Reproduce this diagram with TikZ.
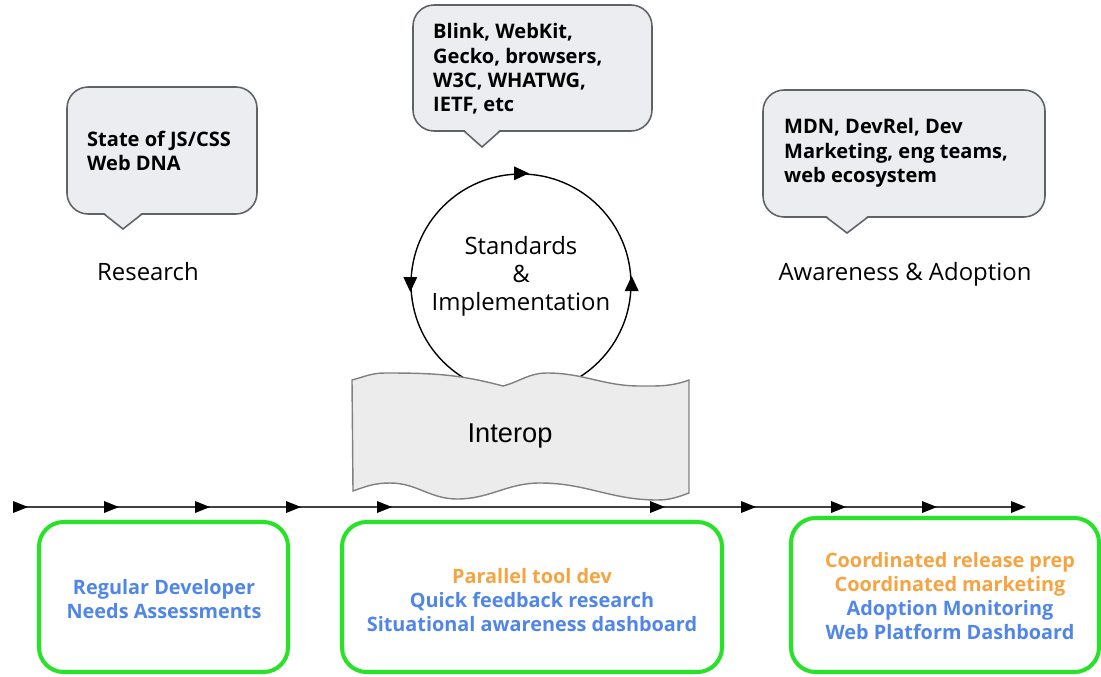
\documentclass[tikz,border=0pt]{standalone}
\usepackage{fontspec}
\setmainfont{Open Sans}
\newfontfamily\arialfont{Liberation Sans}
\usepackage{tikz}

\definecolor{calloutfill}{RGB}{235,237,240}
\definecolor{calloutedge}{RGB}{95,99,104}
\definecolor{boxgreen}{RGB}{40,226,40}
\definecolor{textblue}{RGB}{79,134,232}
\definecolor{textorange}{RGB}{245,164,66}
\definecolor{bannerfill}{RGB}{236,236,236}

\tikzset{
    callout/.style={draw=calloutedge, fill=calloutfill, line width=0.9pt, rounded corners=12pt},
    callouttext/.style={anchor=west, align=left, font=\fontsize{11.4}{13.9}\selectfont\bfseries},
    stagelabel/.style={anchor=center, font=\fontsize{13.6}{16}\selectfont},
    stagebox/.style={draw=boxgreen, line width=2.3pt, rounded corners=14pt},
    boxtext/.style={anchor=center, align=center, font=\fontsize{11.3}{13.6}\selectfont\bfseries},
    tick/.style={fill=black}
}

\begin{document}
\begin{tikzpicture}[x=0.02cm, y=-0.02cm]
    \useasboundingbox (0,0) rectangle (1101,676);

    % callouts
    \draw[callout] (67,87) rectangle (257,214);
    \fill[calloutfill] (104,212.5) -- (123,229) -- (142,212.5) -- cycle;
    \draw[calloutedge, line width=0.9pt] (104,214) -- (123,229) -- (142,214);
    \node[callouttext] (jsdna) at (81,151) {State of JS/CSS\\Web DNA};

    \draw[callout] (413,5) rectangle (652,131);
    \fill[calloutfill] (464,129.5) -- (482,147) -- (500,129.5) -- cycle;
    \draw[calloutedge, line width=0.9pt] (464,131) -- (482,147) -- (500,131);
    \node[callouttext] (engines) at (427,69) {Blink, WebKit,\\Gecko, browsers,\\W3C, WHATWG,\\IETF, etc};

    \draw[callout] (763,90) rectangle (1045,217);
    \fill[calloutfill] (826,215.5) -- (847,233) -- (868,215.5) -- cycle;
    \draw[calloutedge, line width=0.9pt] (826,217) -- (847,233) -- (868,217);
    \node[callouttext] (ecosystem) at (778,153) {MDN, DevRel, Dev\\Marketing, eng teams,\\web ecosystem};

    \node[stagelabel] (research) at (148,272) {Research};
    \node[stagelabel] (adoption) at (905,274) {Awareness \& Adoption};

    % standards cycle
    \node[draw, circle, line width=0.8pt, minimum size=4.4cm, inner sep=0pt] (cyc) at (521,284) {};
    \node[stagelabel, align=center] (standards) at (521,276) {Standards\\\&\\Implementation};
    \fill (cyc.north) ++(-7,-7) -- ++(15,7) -- ++(-15,7) -- cycle;
    \fill (cyc.west) ++(-7,-7) -- ++(14,0) -- ++(-7,15) -- cycle;
    \fill (cyc.east) ++(-7,7) -- ++(14,0) -- ++(-7,-15) -- cycle;

    % interop banner
    \filldraw[draw=gray, fill=bannerfill, line width=0.8pt]
        (352,380) to[out=15,in=180] (385,373) to[out=0,in=165] (503,386)
        to[out=15,in=180] (547,373) to[out=0,in=180] (640,386) to[out=0,in=200] (689,380)
        -- (689,493) to[out=200,in=0] (657,500) to[out=180,in=0] (540,483)
        to[out=180,in=0] (457,499) to[out=180,in=0] (390,483) to[out=180,in=20] (353,491)
        -- cycle;
    \node[anchor=center, font=\arialfont\fontsize{15.5}{18}\selectfont] (interop) at (510,436) {Interop};

    % timeline
    \coordinate (tlstart) at (14,507);
    \coordinate (tlend) at (1024,507);
    \draw[line width=0.8pt, black!75] (tlstart) -- (tlend);
    \foreach \x in {20,111,202,293,384,657,748,838,929,1018}
        \fill[tick] (\x-7,501) -- (\x+8,507) -- (\x-7,513) -- cycle;

    % stage boxes
    \draw[stagebox] (39,522) rectangle (288,672);
    \node[boxtext, textblue] (needs) at (164,599) {Regular Developer\\Needs Assessments};

    \draw[stagebox] (342,522) rectangle (722,672);
    \node[boxtext] (tooling) at (532,600) {\textcolor{textorange}{Parallel tool dev}\\\textcolor{textblue}{Quick feedback research}\\\textcolor{textblue}{Situational awareness dashboard}};

    \draw[stagebox] (791,518) rectangle (1099,672);
    \node[boxtext] (release) at (950,596) {\textcolor{textorange}{Coordinated release prep}\\\textcolor{textorange}{Coordinated marketing}\\\textcolor{textblue}{Adoption Monitoring}\\\textcolor{textblue}{Web Platform Dashboard}};

\end{tikzpicture}
\end{document}
